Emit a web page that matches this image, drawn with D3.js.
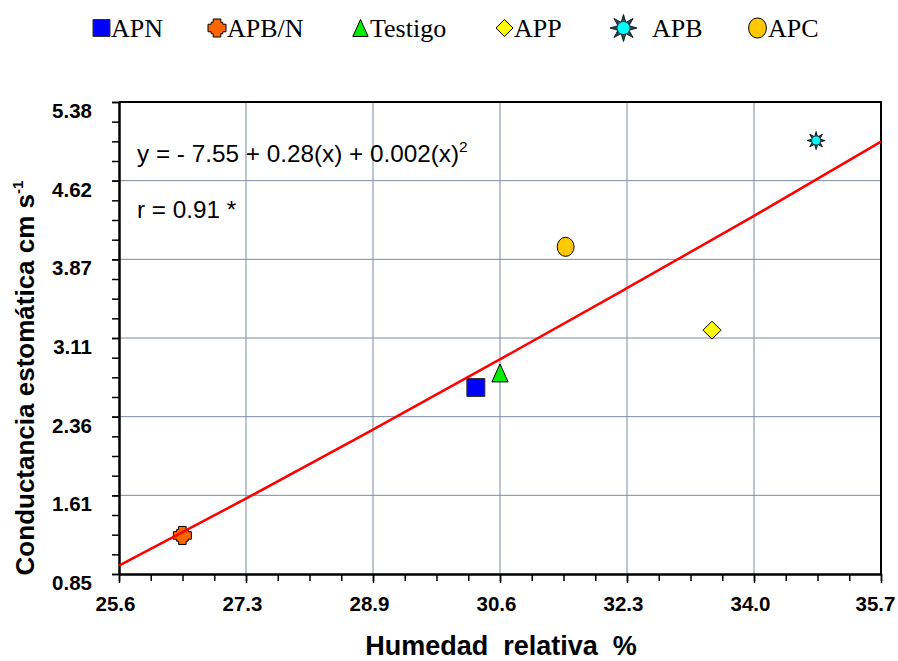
<!DOCTYPE html>
<html>
<head>
<meta charset="utf-8">
<script src="https://cdn.jsdelivr.net/npm/d3@7"></script>
<style>
  body { margin: 0; background: #fff; }
  svg { display: block; }
</style>
</head>
<body>
<svg id="chart" width="898" height="661"></svg>
<script>
"use strict";

// data
const groups = ['APN', 'APB/N', 'Testigo', 'APP', 'APB', 'APC'];
const humedad = [30.33, 26.44, 30.65, 33.46, 34.84, 31.52];
const conductancia = [2.64, 1.22, 2.78, 3.19, 5.01, 3.99];
const fitX = [25.6, 27.3, 28.9, 30.6, 32.3, 34.0, 35.7];
const fitY = [0.93, 1.58, 2.21, 2.89, 3.58, 4.28, 5.00];
const xTickLabels = ['25.6', '27.3', '28.9', '30.6', '32.3', '34.0', '35.7'];
const yTickLabels = ['0.85', '1.61', '2.36', '3.11', '3.87', '4.62', '5.38'];

const shapes = { 'APN': 'square', 'APB/N': 'cross', 'Testigo': 'triangle', 'APP': 'diamond', 'APB': 'star', 'APC': 'circle' };
const fills = { 'APN': '#0000ff', 'APB/N': '#ff6600', 'Testigo': '#00ee00', 'APP': '#ffff00', 'APB': '#00ffff', 'APC': '#ffc800' };

const plotLeft = 119, plotRight = 881, plotTop = 102, plotBottom = 574;
const gridColor = '#7d8aa5';

const svg = d3.select('#chart');

const xMin = +xTickLabels[0], xMax = +xTickLabels[xTickLabels.length - 1];
const yMin = +yTickLabels[0], yMax = +yTickLabels[yTickLabels.length - 1];
const xScale = d3.scaleLinear().domain([xMin, xMax]).range([plotLeft, plotRight]);
const yScale = d3.scaleLinear().domain([yMin, yMax]).range([plotBottom, plotTop]);

const nx = xTickLabels.length - 1, ny = yTickLabels.length - 1;
const xMajor = xTickLabels.map((d, i) => xMin + i * (xMax - xMin) / nx);
const yMajor = yTickLabels.map((d, i) => yMin + i * (yMax - yMin) / ny);
const xMinor = d3.range(nx * 4 + 1).map(i => xMin + i * (xMax - xMin) / (nx * 4));
const yMinor = d3.range(ny * 4 + 1).map(i => yMin + i * (yMax - yMin) / (ny * 4));

// gridlines
svg.append('g').selectAll('line').data(xMajor.slice(1, -1)).join('line')
    .attr('x1', d => xScale(d)).attr('x2', d => xScale(d))
    .attr('y1', plotTop).attr('y2', plotBottom)
    .attr('stroke', gridColor).attr('stroke-width', 1);
svg.append('g').selectAll('line').data(yMajor.slice(1, -1)).join('line')
    .attr('x1', plotLeft).attr('x2', plotRight)
    .attr('y1', d => yScale(d)).attr('y2', d => yScale(d))
    .attr('stroke', gridColor).attr('stroke-width', 1);

// frame top / right
svg.append('path')
    .attr('d', `M${plotLeft},${plotTop}H${plotRight}V${plotBottom}`)
    .attr('fill', 'none').attr('stroke', '#000').attr('stroke-width', 2);

// axes
function styleAxis(g) {
    g.select('.domain').attr('stroke', '#000').attr('stroke-width', 2);
    g.selectAll('.tick line').attr('stroke', '#000').attr('stroke-width', 1.5);
    g.selectAll('text').attr('font-family', 'Liberation Sans, Arial, sans-serif')
        .attr('font-weight', 'bold').attr('font-size', 20.5).attr('fill', '#000');
}

svg.append('g').attr('transform', `translate(0,${plotBottom})`)
    .call(d3.axisBottom(xScale).tickValues(xMinor).tickSize(7).tickSizeOuter(0).tickFormat(''))
    .call(styleAxis);
svg.append('g').attr('transform', `translate(0,${plotBottom})`)
    .call(d3.axisBottom(xScale).tickValues(xMajor).tickSize(9).tickSizeOuter(0).tickPadding(13)
        .tickFormat((d, i) => xTickLabels[i]))
    .call(styleAxis)
    .call(g => g.selectAll('.tick text').attr('dx', (d, i) => i === nx ? -6 : -4));

svg.append('g').attr('transform', `translate(${plotLeft},0)`)
    .call(d3.axisLeft(yScale).tickValues(yMinor).tickSize(7).tickSizeOuter(0).tickFormat(''))
    .call(styleAxis);
svg.append('g').attr('transform', `translate(${plotLeft},0)`)
    .call(d3.axisLeft(yScale).tickValues(yMajor).tickSize(7).tickSizeOuter(0).tickPadding(20)
        .tickFormat((d, i) => yTickLabels[i]))
    .call(styleAxis)
    .call(g => g.selectAll('.tick text').attr('y', 9));

// markers
function markerPath(shape, s) {
    const h = s / 2;
    if (shape === 'square') return `M${-h},${-h}H${h}V${h}H${-h}Z`;
    if (shape === 'diamond') return `M0,${-h}L${h},0L0,${h}L${-h},0Z`;
    if (shape === 'triangle') return `M0,${-h}L${h * 0.9},${h}L${-h * 0.9},${h}Z`;
    if (shape === 'cross') {
        const a = h * 0.42, b = h * 0.64;
        return `M${-a},${-h}H${a}V${-b}H${b}V${-a}H${h}V${a}H${b}V${b}H${a}V${h}H${-a}V${b}H${-b}V${a}H${-h}V${-a}H${-b}V${-b}H${-a}Z`;
    }
    if (shape === 'star') {
        const pts = d3.range(16).map(i => {
            const r = i % 2 === 0 ? h : h * 0.45;
            const ang = i * Math.PI / 8 - Math.PI / 2;
            return [r * Math.cos(ang), r * Math.sin(ang)];
        });
        return 'M' + pts.map(p => p.join(',')).join('L') + 'Z';
    }
    return '';
}

function drawMarker(g, name, s) {
    const shape = shapes[name];
    if (shape === 'circle') {
        g.append('ellipse').attr('rx', s * 0.47).attr('ry', s * 0.53)
            .attr('fill', fills[name]).attr('stroke', '#000').attr('stroke-width', 1);
    } else if (shape === 'star') {
        g.append('path').attr('d', markerPath('star', s))
            .attr('fill', '#1c4f55').attr('stroke', '#000').attr('stroke-width', 0.8);
        g.append('circle').attr('r', s * 0.22).attr('fill', fills[name]);
    } else {
        g.append('path').attr('d', markerPath(shape, s))
            .attr('fill', fills[name]).attr('stroke', shape === 'square' ? '#333' : '#000')
            .attr('stroke-width', 1);
    }
}

const points = svg.append('g');
groups.forEach((name, i) => {
    const g = points.append('g')
        .attr('transform', `translate(${xScale(humedad[i])},${yScale(conductancia[i])})`);
    drawMarker(g, name, 18);
});

// fitted curve
const line = d3.line()
    .x(d => xScale(d))
    .y((d, i) => yScale(fitY[i]))
    .curve(d3.curveMonotoneX);
svg.append('path').datum(fitX)
    .attr('d', line)
    .attr('fill', 'none').attr('stroke', '#ff0000').attr('stroke-width', 2.5);

// equation text
const eq = svg.append('text').attr('x', 137).attr('y', 162)
    .attr('font-family', 'Liberation Sans, Arial, sans-serif').attr('font-size', 24.3)
    .style('white-space', 'pre');
eq.append('tspan').text('y = - 7.55 + 0.28(x) + 0.002(x)');
eq.append('tspan').attr('dy', -10).attr('font-size', 15.5).text('2');
svg.append('text').attr('x', 137).attr('y', 218)
    .attr('font-family', 'Liberation Sans, Arial, sans-serif').attr('font-size', 24.3)
    .text('r = 0.91 *');

// axis titles
svg.append('text').attr('x', 501).attr('y', 655).attr('text-anchor', 'middle')
    .attr('font-family', 'Liberation Sans, Arial, sans-serif').attr('font-weight', 'bold')
    .attr('font-size', 27).style('white-space', 'pre')
    .text('Humedad  relativa  %');

const yt = svg.append('text')
    .attr('transform', 'translate(34,378) rotate(-90)')
    .attr('text-anchor', 'middle')
    .attr('font-family', 'Liberation Sans, Arial, sans-serif').attr('font-weight', 'bold')
    .attr('font-size', 26);
yt.append('tspan').text('Conductancia estomática cm s');
yt.append('tspan').attr('dy', -11).attr('font-size', 15).text('-1');

// legend
const legendX = [93, 208, 352, 496, 610, 748];
const legendGap = [1, 1, 1, 1, 15, 1];
const legendSize = [17, 18, 17, 17, 27, 19];
const legend = svg.append('g');
groups.forEach((name, i) => {
    const s = legendSize[i];
    const g = legend.append('g').attr('transform', `translate(${legendX[i] + s / 2},28)`);
    drawMarker(g, name, s);
    legend.append('text')
        .attr('x', legendX[i] + s + legendGap[i]).attr('y', 37)
        .attr('font-family', 'Liberation Serif, Times New Roman, serif').attr('font-size', 26)
        .attr('fill', '#000')
        .text(name);
});
</script>
</body>
</html>
